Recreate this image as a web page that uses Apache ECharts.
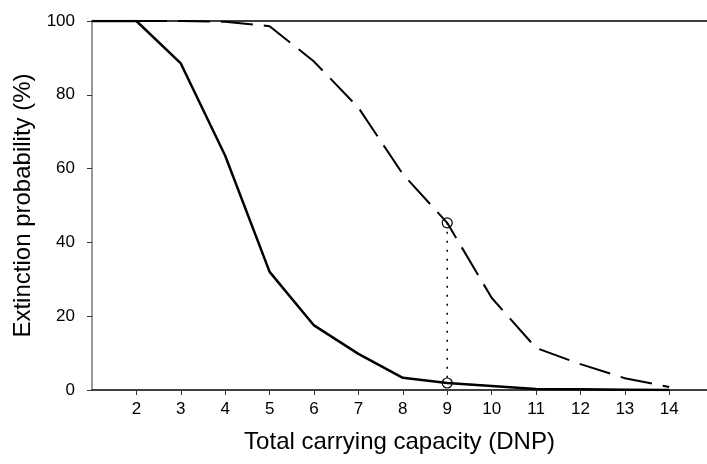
<!DOCTYPE html>
<html>
<head>
<meta charset="utf-8">
<script src="https://cdn.jsdelivr.net/npm/echarts@6/dist/echarts.min.js"></script>
<style>
  html, body { margin: 0; padding: 0; background: #fff; }
  #main { width: 707px; height: 464px; }
</style>
</head>
<body>
<div id="main"></div>
<script>
// data
var capacity = [1, 2, 3, 4, 5, 6, 7, 8, 9, 10, 11, 12, 13, 14];
var solidValues = [100, 100, 88.5, 63.5, 32, 17.5, 9.8, 3.3, 1.9, 1.1, 0.3, 0.2, 0.1, 0];
var dashedValues = [100, 100, 100, 99.8, 98.6, 89, 76.5, 58.5, 45.3, 25, 11.4, 7, 3.2, 0.8];
var dropX = [9, 9];
var dropY = [45.3, 1.9];
var yTicks = [0, 20, 40, 60, 80, 100];

var font = 'Liberation Sans, Arial, sans-serif';

function pairs(xs, ys) {
  return xs.map(function (x, i) { return [x, ys[i]]; });
}

var chart = echarts.init(document.getElementById('main'), null, { renderer: 'canvas' });

var option = {
  animation: false,
  backgroundColor: '#fff',
  grid: {
    left: 92,
    right: 0,
    top: 21,
    bottom: 74,
    containLabel: false,
    outerBoundsMode: 'none'
  },
  xAxis: [{
    type: 'value',
    min: 1,
    max: 14.85,
    interval: 1,
    name: 'Total carrying capacity (DNP)',
    nameLocation: 'middle',
    nameGap: 40,
    nameTextStyle: { color: '#000', fontSize: 24, fontFamily: font },
    axisLine: { show: true, lineStyle: { color: '#000', width: 1.5 } },
    axisTick: {
      show: true,
      inside: false,
      length: 5,
      customValues: capacity.slice(1),
      lineStyle: { color: '#333', width: 1 }
    },
    axisLabel: {
      color: '#000',
      fontSize: 17,
      fontFamily: font,
      margin: 11,
      customValues: capacity.slice(1)
    },
    splitLine: { show: false }
  }, {
    // top frame line
    type: 'value',
    position: 'top',
    min: 1,
    max: 14.85,
    axisLine: { show: true, onZero: false, lineStyle: { color: '#000', width: 1.5 } },
    axisTick: { show: false },
    axisLabel: { show: false },
    splitLine: { show: false }
  }],
  yAxis: {
    type: 'value',
    min: 0,
    max: 100,
    interval: 20,
    name: 'Extinction probability (%)',
    nameLocation: 'middle',
    nameGap: 51,
    nameTextStyle: { color: '#000', fontSize: 24, fontFamily: font },
    axisLine: { show: true, lineStyle: { color: '#777', width: 1.5 } },
    axisTick: {
      show: true,
      inside: false,
      length: 5,
      customValues: yTicks,
      lineStyle: { color: '#333', width: 1 }
    },
    axisLabel: {
      color: '#000',
      fontSize: 17,
      fontFamily: font,
      margin: 17
    },
    splitLine: { show: false }
  },
  series: [{
    name: 'solid',
    type: 'line',
    data: pairs(capacity, solidValues),
    symbol: 'none',
    lineStyle: { color: '#000', width: 2.5 },
    z: 3
  }, {
    name: 'dashed',
    type: 'line',
    data: pairs(capacity, dashedValues),
    symbol: 'none',
    lineStyle: { color: '#000', width: 2, type: [32, 11] },
    z: 3
  }, {
    name: 'drop',
    type: 'line',
    data: pairs(dropX, dropY),
    symbol: 'circle',
    symbolSize: 10,
    itemStyle: { color: 'rgba(255,255,255,0)', borderColor: '#000', borderWidth: 1.2 },
    lineStyle: { color: '#000', width: 1.5, type: [2, 7] },
    z: 4
  }]
};

chart.setOption(option);
</script>
</body>
</html>
